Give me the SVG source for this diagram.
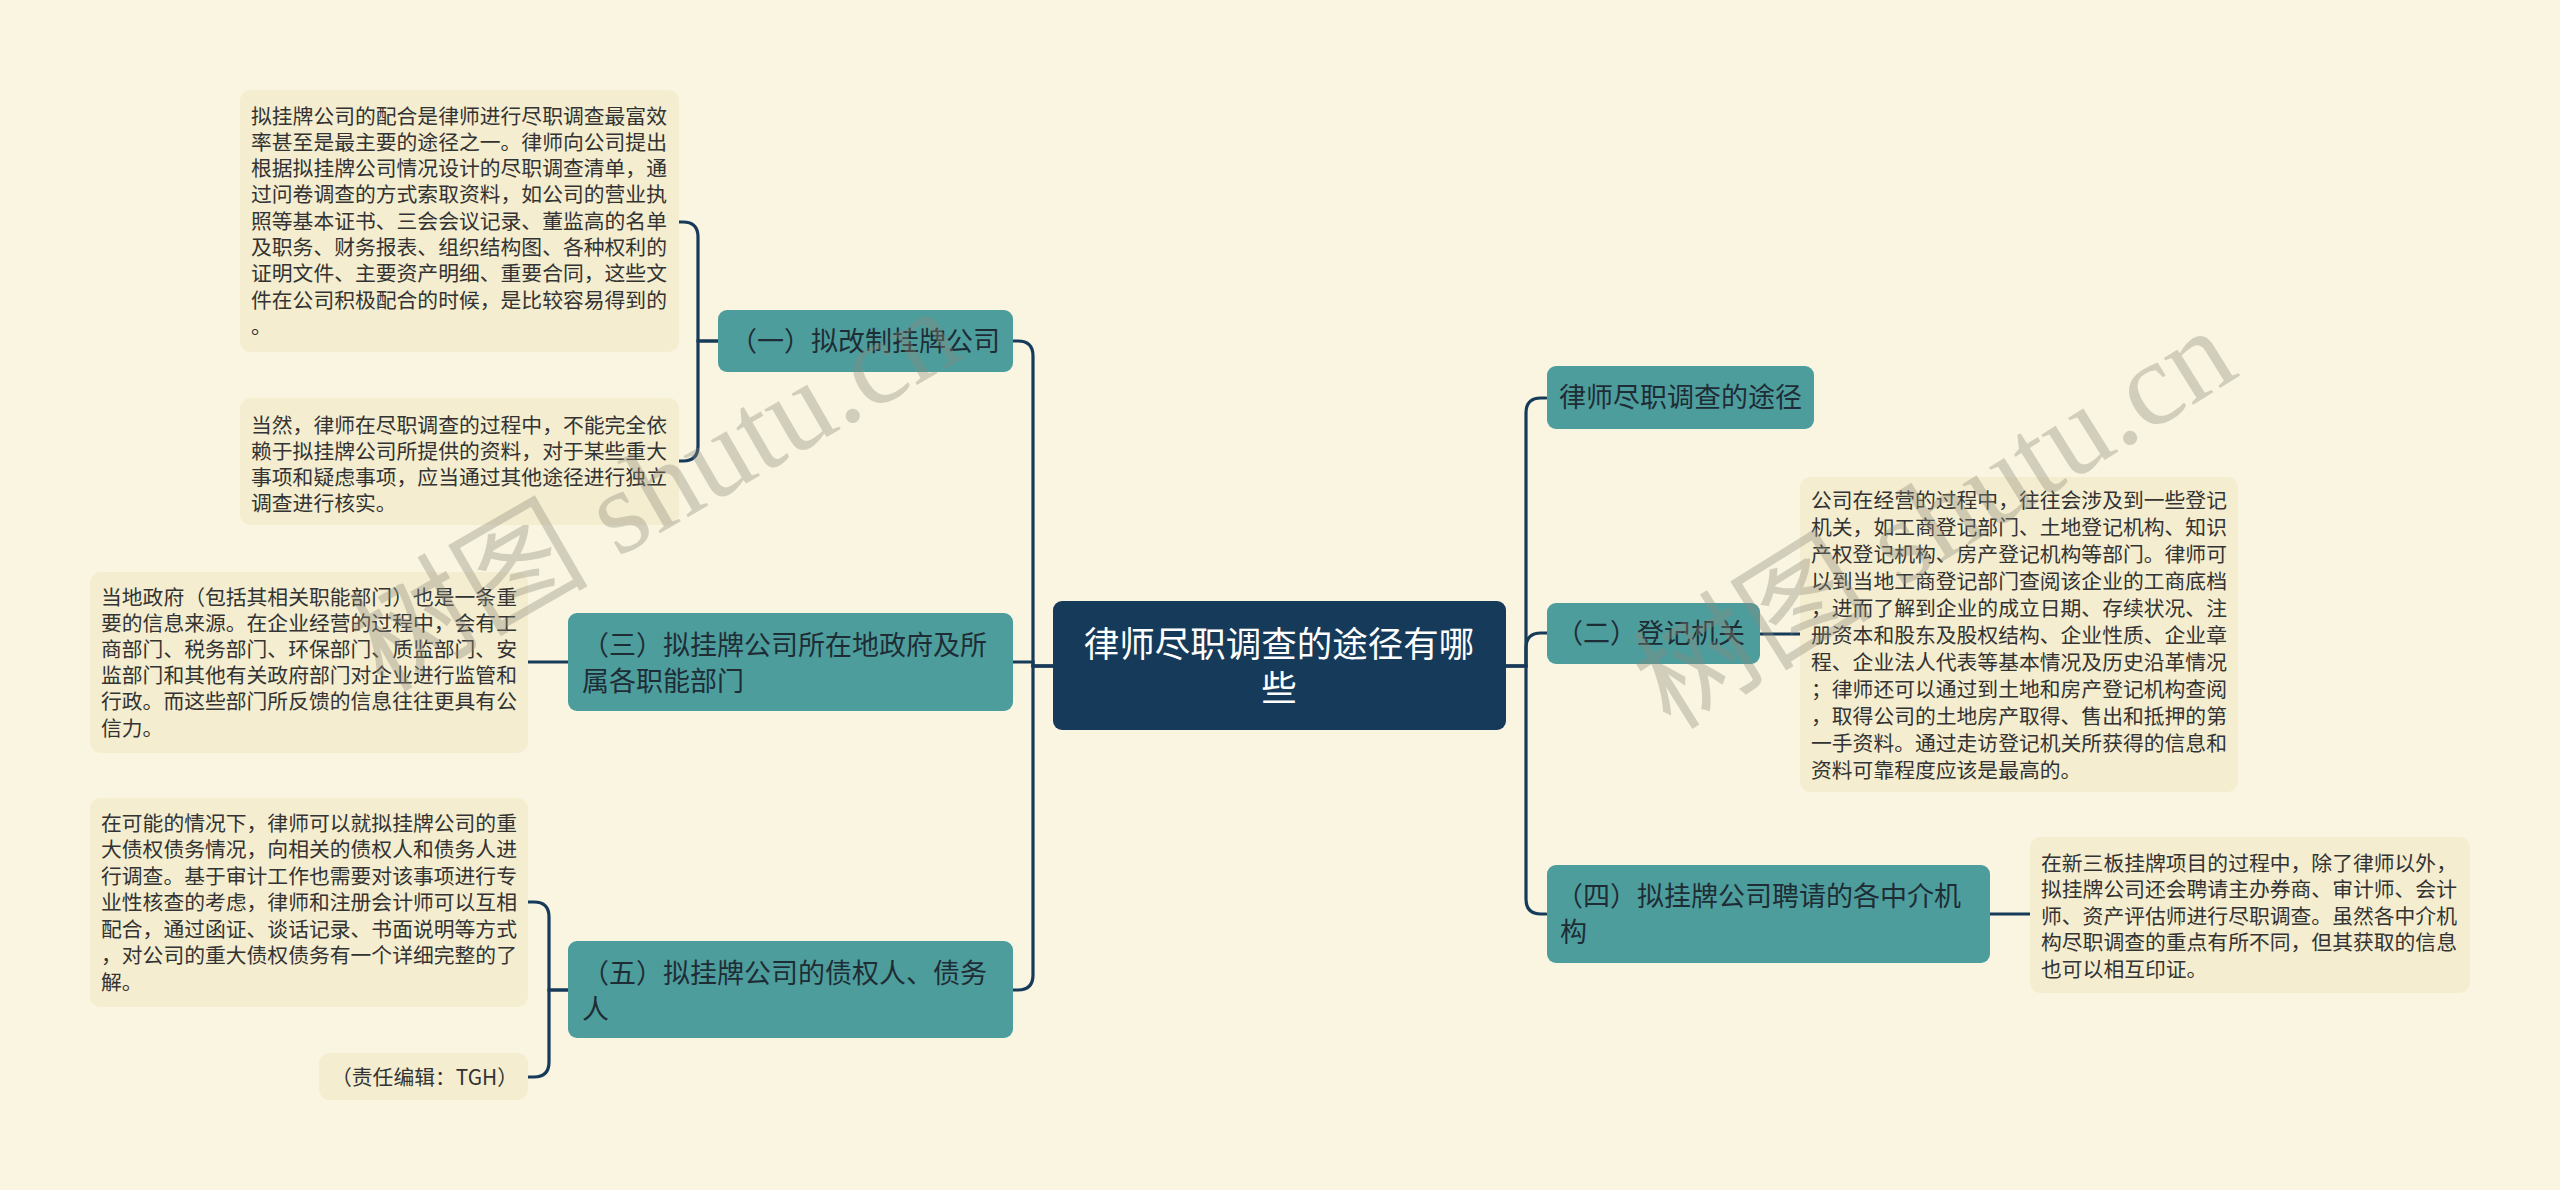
<svg xmlns="http://www.w3.org/2000/svg" width="2560" height="1190" viewBox="0 0 2560 1190">
<style>
.bg{fill:#faf5e1}
.main rect{fill:#163a59}
.main text{fill:#ffffff;font-family:"Noto Sans CJK SC","Noto Sans",sans-serif;font-size:35.5px;text-anchor:middle}
.sub rect{fill:#4e9d9d}
.sub text{fill:#1e2d35;font-family:"Noto Sans CJK SC","Noto Sans",sans-serif;font-size:27px}
.leaf rect{fill:#f4edcf}
.leaf text{fill:#333333;font-family:"Noto Sans CJK SC","Noto Sans",sans-serif;font-size:20.8px}
.conn path{fill:none;stroke:#163a59;stroke-width:3.2;stroke-linecap:round}
.wm{fill:#8c8a7c;opacity:0.36;font-family:"Liberation Serif","Noto Sans CJK SC",serif;font-size:120px;text-anchor:middle}
</style>
<rect class="bg" x="0" y="0" width="2560" height="1190"/>

<g id="connectors" class="conn">
  <path d="M1053 666 H1033 V356 Q1033 341 1018 341 H1012"/>
  <path d="M1053 666 H1033 V662 H1012"/>
  <path d="M1053 666 H1033 V975 Q1033 990 1018 990 H1012"/>
  <path d="M1506 666 H1526 V413 Q1526 398 1541 398 H1546"/>
  <path d="M1506 666 H1526 V648 Q1526 633 1541 633 H1547"/>
  <path d="M1506 666 H1526 V899 Q1526 914 1541 914 H1546"/>
  <path d="M718 341 H698 V237 Q698 222 683 222 H679"/>
  <path d="M718 341 H698 V446 Q698 461 683 461 H679"/>
  <path d="M568 662 H528"/>
  <path d="M568 990 H549 V917 Q549 902 534 902 H528"/>
  <path d="M568 990 H549 V1062 Q549 1077 534 1077 H528"/>
  <path d="M1760 634 H1800"/>
  <path d="M1990 914 H2030"/>
</g>

<g id="center" class="main">
  <rect x="1053" y="601" width="453" height="129" rx="9"/>
  <text x="1279" y="657">律师尽职调查的途径有哪</text>
  <text x="1279" y="701">些</text>
</g>

<g id="n1" class="sub">
  <rect x="718" y="310" width="295" height="62" rx="9"/>
  <text x="730" y="351">（一）拟改制挂牌公司</text>
</g>
<g id="n3" class="sub">
  <rect x="568" y="613" width="445" height="98" rx="9"/>
  <text x="582" y="655">（三）拟挂牌公司所在地政府及所</text>
  <text x="582" y="691">属各职能部门</text>
</g>
<g id="n5" class="sub">
  <rect x="568" y="941" width="445" height="97" rx="9"/>
  <text x="582" y="983">（五）拟挂牌公司的债权人、债务</text>
  <text x="582" y="1019">人</text>
</g>
<g id="n0" class="sub">
  <rect x="1547" y="366" width="267" height="63" rx="9"/>
  <text x="1559" y="407">律师尽职调查的途径</text>
</g>
<g id="n2" class="sub">
  <rect x="1547" y="603" width="213" height="61" rx="9"/>
  <text x="1556" y="643">（二）登记机关</text>
</g>
<g id="n4" class="sub">
  <rect x="1547" y="865" width="443" height="98" rx="9"/>
  <text x="1556" y="906">（四）拟挂牌公司聘请的各中介机</text>
  <text x="1560" y="942">构</text>
</g>

<g id="leaf1" class="leaf">
  <rect x="240" y="90" width="439" height="262" rx="11"/>
  <text x="251" y="123.5">拟挂牌公司的配合是律师进行尽职调查最富效</text>
  <text x="251" y="149.8">率甚至是最主要的途径之一。律师向公司提出</text>
  <text x="251" y="176.1">根据拟挂牌公司情况设计的尽职调查清单，通</text>
  <text x="251" y="202.4">过问卷调查的方式索取资料，如公司的营业执</text>
  <text x="251" y="228.7">照等基本证书、三会会议记录、董监高的名单</text>
  <text x="251" y="255">及职务、财务报表、组织结构图、各种权利的</text>
  <text x="251" y="281.3">证明文件、主要资产明细、重要合同，这些文</text>
  <text x="251" y="307.6">件在公司积极配合的时候，是比较容易得到的</text>
  <text x="251" y="333.9">。</text>
</g>
<g id="leaf2" class="leaf">
  <rect x="240" y="398" width="439" height="127" rx="11"/>
  <text x="251" y="432.5">当然，律师在尽职调查的过程中，不能完全依</text>
  <text x="251" y="458.5">赖于拟挂牌公司所提供的资料，对于某些重大</text>
  <text x="251" y="484.5">事项和疑虑事项，应当通过其他途径进行独立</text>
  <text x="251" y="510.5">调查进行核实。</text>
</g>
<g id="leaf3" class="leaf">
  <rect x="90" y="572" width="438" height="181" rx="11"/>
  <text x="101" y="604.5">当地政府（包括其相关职能部门）也是一条重</text>
  <text x="101" y="630.7">要的信息来源。在企业经营的过程中，会有工</text>
  <text x="101" y="656.9">商部门、税务部门、环保部门、质监部门、安</text>
  <text x="101" y="683.1">监部门和其他有关政府部门对企业进行监管和</text>
  <text x="101" y="709.3">行政。而这些部门所反馈的信息往往更具有公</text>
  <text x="101" y="735.5">信力。</text>
</g>
<g id="leaf4" class="leaf">
  <rect x="90" y="798" width="438" height="209" rx="11"/>
  <text x="101" y="830.5">在可能的情况下，律师可以就拟挂牌公司的重</text>
  <text x="101" y="857">大债权债务情况，向相关的债权人和债务人进</text>
  <text x="101" y="883.5">行调查。基于审计工作也需要对该事项进行专</text>
  <text x="101" y="910">业性核查的考虑，律师和注册会计师可以互相</text>
  <text x="101" y="936.5">配合，通过函证、谈话记录、书面说明等方式</text>
  <text x="101" y="963">，对公司的重大债权债务有一个详细完整的了</text>
  <text x="101" y="989.5">解。</text>
</g>
<g id="leaf_tgh" class="leaf">
  <rect x="319" y="1053" width="209" height="47" rx="11"/>
  <text x="331" y="1084.5">（责任编辑：TGH）</text>
</g>
<g id="leaf5" class="leaf">
  <rect x="1800" y="477" width="438" height="315" rx="11"/>
  <text x="1811" y="507.5">公司在经营的过程中，往往会涉及到一些登记</text>
  <text x="1811" y="534.5">机关，如工商登记部门、土地登记机构、知识</text>
  <text x="1811" y="561.5">产权登记机构、房产登记机构等部门。律师可</text>
  <text x="1811" y="588.5">以到当地工商登记部门查阅该企业的工商底档</text>
  <text x="1811" y="615.5">，进而了解到企业的成立日期、存续状况、注</text>
  <text x="1811" y="642.5">册资本和股东及股权结构、企业性质、企业章</text>
  <text x="1811" y="669.5">程、企业法人代表等基本情况及历史沿革情况</text>
  <text x="1811" y="696.5">；律师还可以通过到土地和房产登记机构查阅</text>
  <text x="1811" y="723.5">，取得公司的土地房产取得、售出和抵押的第</text>
  <text x="1811" y="750.5">一手资料。通过走访登记机关所获得的信息和</text>
  <text x="1811" y="777.5">资料可靠程度应该是最高的。</text>
</g>
<g id="leaf6" class="leaf">
  <rect x="2030" y="837" width="440" height="156" rx="11"/>
  <text x="2041" y="870.5">在新三板挂牌项目的过程中，除了律师以外，</text>
  <text x="2041" y="897">拟挂牌公司还会聘请主办券商、审计师、会计</text>
  <text x="2041" y="923.5">师、资产评估师进行尽职调查。虽然各中介机</text>
  <text x="2041" y="950">构尽职调查的重点有所不同，但其获取的信息</text>
  <text x="2041" y="976.5">也可以相互印证。</text>
</g>

<g id="watermarks">
  <text class="wm" x="655" y="530" transform="rotate(-30 655 490)">树图 shutu.cn</text>
  <text class="wm" x="1935" y="559" transform="rotate(-32 1935 519)">树图 shutu.cn</text>
</g>
</svg>
